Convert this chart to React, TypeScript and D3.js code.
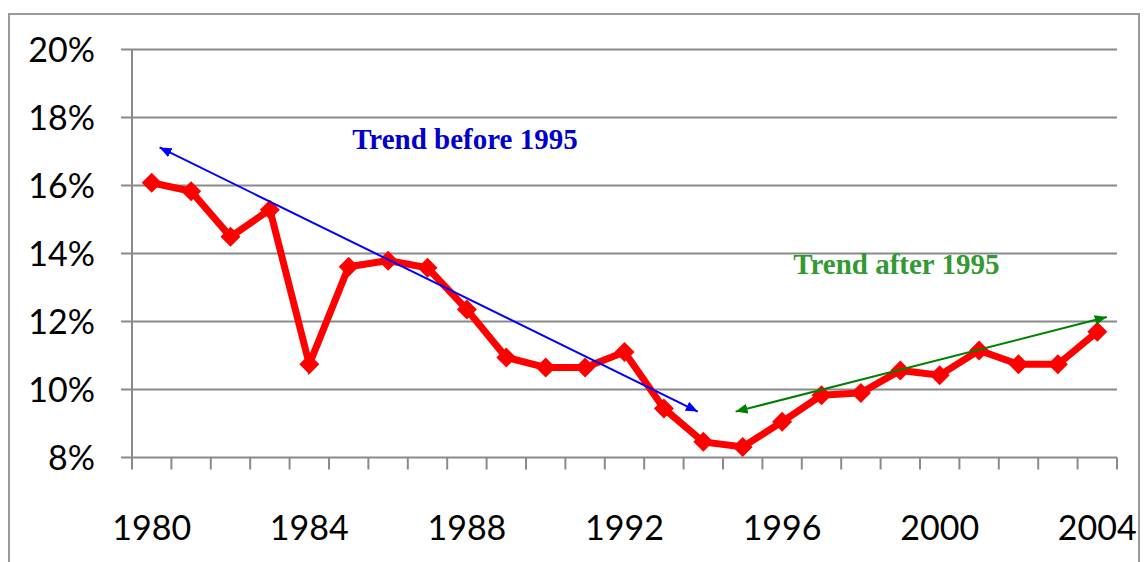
import React from "react";
import * as d3 from "d3";

const years: number[] = d3.range(1980, 2005);
const rates: number[] = [
  16.08, 15.83, 14.49, 15.29, 10.74, 13.61, 13.79, 13.58, 12.35, 10.94,
  10.65, 10.65, 11.1, 9.44, 8.46, 8.31, 9.05, 9.83, 9.9, 10.56,
  10.42, 11.15, 10.74, 10.74, 11.7,
];
const yTicks: number[] = [8, 10, 12, 14, 16, 18, 20];
const xLabelYears: number[] = [1980, 1984, 1988, 1992, 1996, 2000, 2004];

// annotation arrows in data units (year, percent)
const trendBefore = { x1: 1980.2, y1: 17.12, x2: 1993.86, y2: 9.35, label: "Trend before 1995", lx: 1987.95, ly: 17.08 };
const trendAfter = { x1: 1994.82, y1: 9.35, x2: 2004.24, y2: 12.13, label: "Trend after 1995", lx: 1998.9, ly: 13.4 };

const W = 1144;
const H = 562;
const left = 132;
const right = 1117;
const top = 49.5;
const bottom = 457.5;

export default function App() {
  const x = d3.scaleBand<number>().domain(years).range([left, right]).padding(0);
  const bw = x.bandwidth();
  const cx = (yr: number) => (x(yr) as number) + bw / 2;
  // continuous year -> px (for annotations)
  const xc = d3.scaleLinear().domain([1980, 2004]).range([cx(1980), cx(2004)]);
  const y = d3.scaleLinear().domain([8, 20]).range([bottom, top]);

  const line = d3
    .line<number>()
    .x((_, i) => cx(years[i]))
    .y((d) => y(d));

  const boundaries = d3.range(years.length + 1).map((i) => left + i * bw);
  const gridColor = "#8a8a8a";
  const font = "Lato, 'Open Sans', sans-serif";

  const arrow = (a: typeof trendBefore, color: string, id: string) => (
    <g>
      <line
        x1={xc(a.x1)}
        y1={y(a.y1)}
        x2={xc(a.x2)}
        y2={y(a.y2)}
        stroke={color}
        strokeWidth={2}
        markerStart={`url(#${id}s)`}
        markerEnd={`url(#${id}e)`}
      />
    </g>
  );

  const markerDefs = (id: string, color: string) => (
    <>
      <marker id={`${id}e`} viewBox="0 0 12 10" refX="12" refY="5" markerWidth="12" markerHeight="10" markerUnits="userSpaceOnUse" orient="auto">
        <path d="M0,0 L12,5 L0,10 Z" fill={color} />
      </marker>
      <marker id={`${id}s`} viewBox="0 0 12 10" refX="0" refY="5" markerWidth="12" markerHeight="10" markerUnits="userSpaceOnUse" orient="auto">
        <path d="M12,0 L0,5 L12,10 Z" fill={color} />
      </marker>
    </>
  );

  return (
    <svg width={W} height={H} style={{ position: "absolute", left: 0, top: 0, background: "#fff" }}>
      <defs>
        {markerDefs("blue", "#0000ff")}
        {markerDefs("green", "#008000")}
      </defs>
      <rect x={0} y={0} width={W} height={H} fill="#fff" />
      {/* outer frame */}
      <rect x={9} y={14} width={1130} height={600} fill="none" stroke="#9a9a9a" strokeWidth={2} />

      {/* gridlines + y ticks */}
      {yTicks.map((t) => (
        <line key={t} x1={121} x2={right} y1={y(t)} y2={y(t)} stroke={gridColor} strokeWidth={2} />
      ))}
      {/* y axis */}
      <line x1={left} x2={left} y1={top} y2={bottom} stroke={gridColor} strokeWidth={2} />
      {/* x ticks */}
      {boundaries.map((b, i) => (
        <line key={i} x1={b} x2={b} y1={bottom} y2={bottom + 12} stroke={gridColor} strokeWidth={2} />
      ))}

      {/* y labels */}
      {yTicks.map((t) => (
        <text key={t} x={95} y={y(t)} dy="0.36em" textAnchor="end" fontFamily={font} fontSize={34} fill="#000">
          {`${t}%`}
        </text>
      ))}
      {/* x labels */}
      {xLabelYears.map((yr) => (
        <text key={yr} x={cx(yr)} y={540} textAnchor="middle" fontFamily={font} fontSize={34} fill="#000">
          {yr}
        </text>
      ))}

      {/* data line */}
      <path d={line(rates) || ""} fill="none" stroke="#ff0000" strokeWidth={7} strokeLinejoin="miter" />
      {rates.map((v, i) => {
        const px = cx(years[i]);
        const py = y(v);
        const r = 10;
        return <path key={i} d={`M${px},${py - r}L${px + r},${py}L${px},${py + r}L${px - r},${py}Z`} fill="#ff0000" />;
      })}

      {/* annotations */}
      {arrow(trendBefore, "#0000ff", "blue")}
      {arrow(trendAfter, "#008000", "green")}
      <text x={xc(trendBefore.lx)} y={y(trendBefore.ly)} textAnchor="middle" fontFamily="'Liberation Serif', 'Times New Roman', serif" fontWeight="bold" fontSize={29} fill="#0000cc">
        {trendBefore.label}
      </text>
      <text x={xc(trendAfter.lx)} y={y(trendAfter.ly)} textAnchor="middle" fontFamily="'Liberation Serif', 'Times New Roman', serif" fontWeight="bold" fontSize={29} fill="#339933">
        {trendAfter.label}
      </text>
    </svg>
  );
}
